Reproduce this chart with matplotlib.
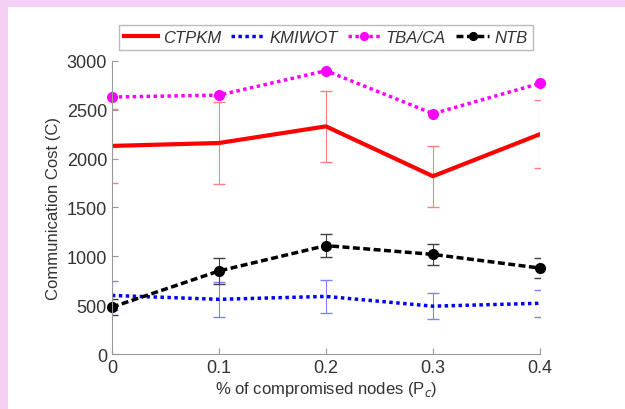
import matplotlib
matplotlib.use("Agg")
import matplotlib.pyplot as plt

plt.rcParams['font.family'] = ['Liberation Sans', 'DejaVu Sans']

x = [0, 0.1, 0.2, 0.3, 0.4]
ctpkm = [2130, 2160, 2330, 1820, 2250]
ctpkm_err = [380, 420, 360, 310, 350]
kmiwot = [600, 560, 590, 490, 520]
kmiwot_err = [150, 180, 170, 130, 140]
tba = [2630, 2650, 2900, 2460, 2770]
ntb = [480, 850, 1110, 1020, 880]
ntb_err = [80, 130, 115, 105, 105]

fig = plt.figure(figsize=(6.25, 4.1), dpi=100)
fig.patch.set_facecolor('#f5d0f5')
# white panel
fig.add_artist(plt.Rectangle((8/625, 0), 1, 1 - 8/410, transform=fig.transFigure,
                             facecolor='white', edgecolor='none', zorder=0))

ax = fig.add_axes([0.179, 0.134, 0.685, 0.715])
ax.set_facecolor('white')

# error bars first, lines drawn on top
ax.errorbar(x, ctpkm, yerr=ctpkm_err, fmt='none', ecolor='#ff8080',
            elinewidth=0.8, capsize=4)
ax.errorbar(x, kmiwot, yerr=kmiwot_err, fmt='none', ecolor='#8080ff',
            elinewidth=0.8, capsize=4)
ax.errorbar(x, ntb, yerr=ntb_err, fmt='none', ecolor='#404040',
            elinewidth=0.8, capsize=4)

h1, = ax.plot(x, ctpkm, color='red', lw=3, label='CTPKM')
h2, = ax.plot(x, kmiwot, color='blue', lw=2.5, ls=(0, (1, 1)), label='KMIWOT')
h3, = ax.plot(x, tba, color='magenta', lw=2.5, ls=(0, (1, 1)), marker='o',
              ms=7, label='TBA/CA', clip_on=False)
h4, = ax.plot(x, ntb, color='black', lw=2.5, ls=(0, (2, 1)), marker='o',
              ms=7, label='NTB', clip_on=False)

ax.set_xlim(0, 0.4)
ax.set_ylim(0, 3000)
ax.set_xticks(x)
ax.set_xticklabels(['0', '0.1', '0.2', '0.3', '0.4'])
ax.set_yticks([0, 500, 1000, 1500, 2000, 2500, 3000])
for s in ['top', 'right']:
    ax.spines[s].set_visible(False)
for s in ['left', 'bottom']:
    ax.spines[s].set_color('#999999')
ax.tick_params(direction='in', colors='#999999', labelcolor='#333333',
               labelsize=13, length=4)
ax.set_xlabel('% of compromised nodes (P$_c$)', fontsize=12, color='#333333',
              labelpad=2)
ax.set_ylabel('Communication Cost (C)', fontsize=12, color='#333333')

leg = ax.legend(handles=[h1, h2, h3, h4], loc='lower center',
                bbox_to_anchor=(0.5, 1.01), ncol=4,
                prop={'style': 'italic', 'size': 12}, frameon=True,
                fancybox=False, handlelength=2.0, handletextpad=0.3,
                columnspacing=0.6, borderpad=0.3, markerscale=0.8)
leg.get_frame().set_edgecolor('#aaaaaa')
for t in leg.get_texts():
    t.set_color('#333333')

fig.savefig('out.png', dpi=100, facecolor=fig.get_facecolor())
